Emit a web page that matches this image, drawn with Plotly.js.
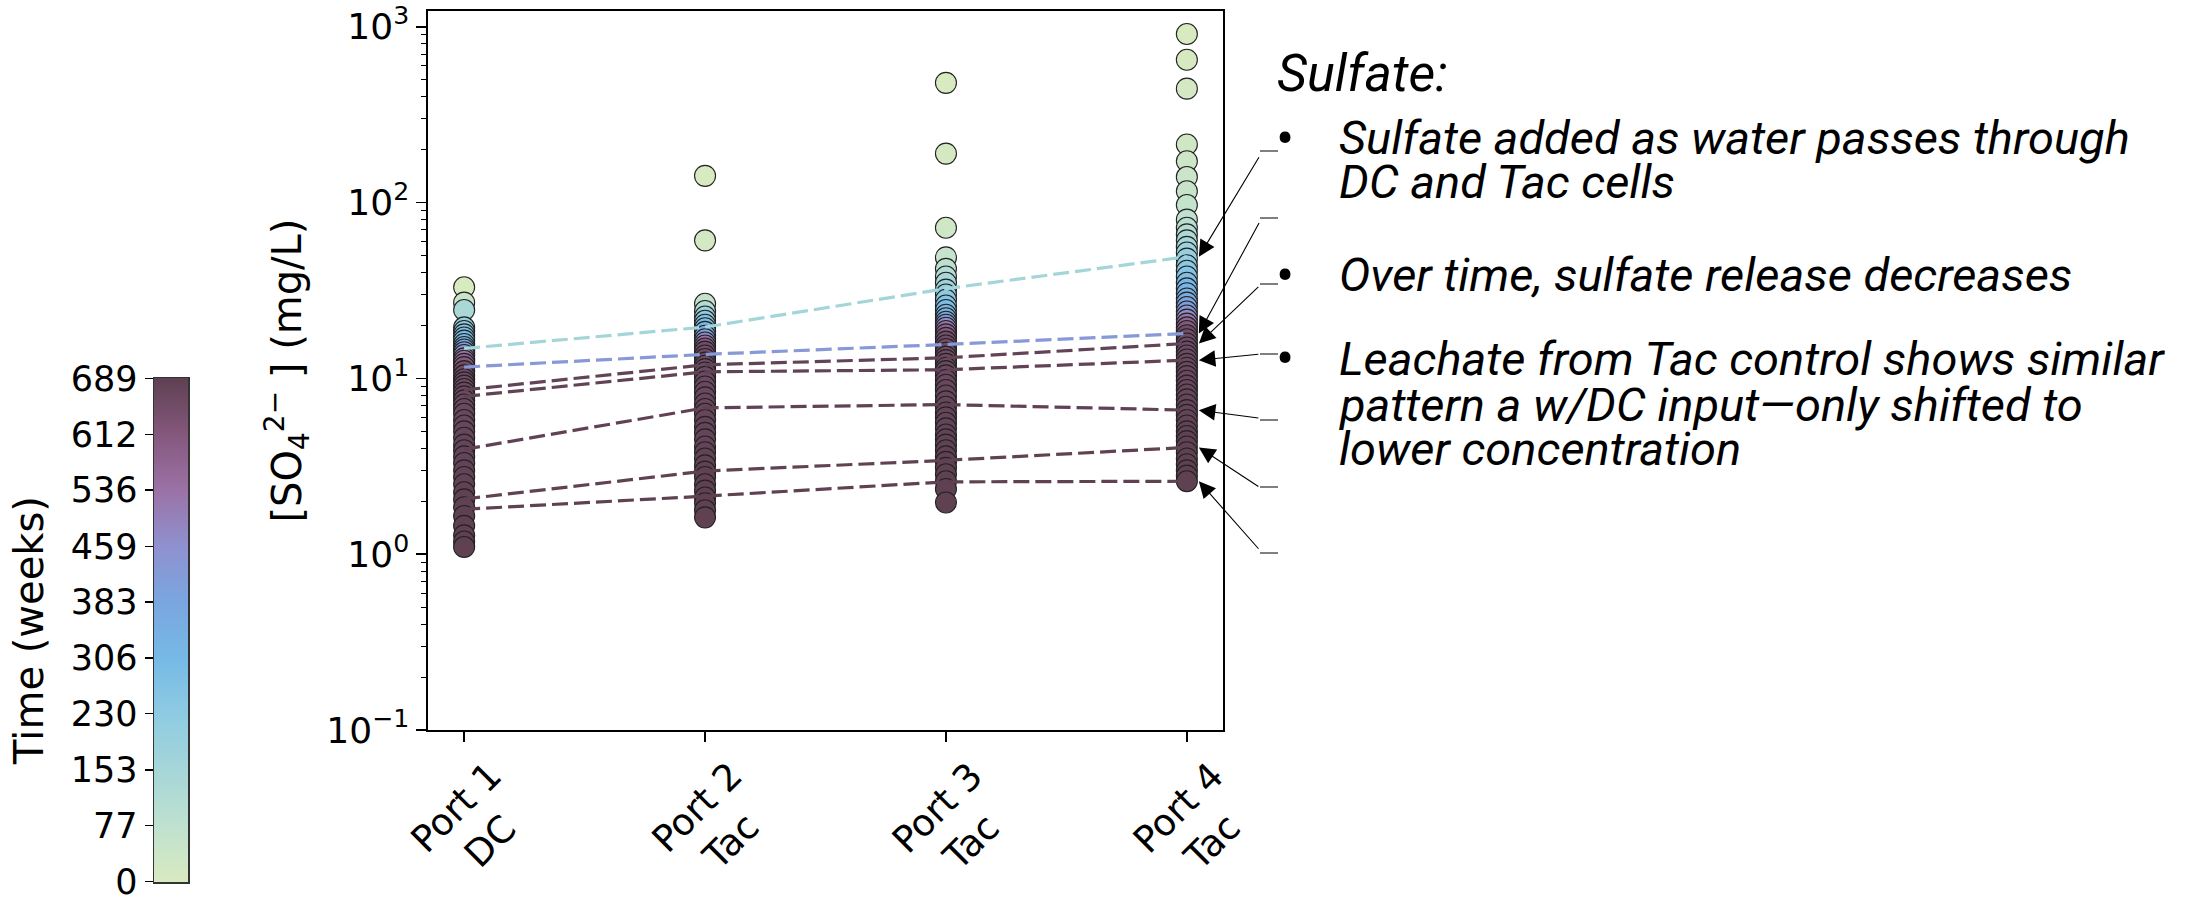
<!DOCTYPE html>
<html><head><meta charset="utf-8">
<script src="https://cdn.plot.ly/plotly-3.0.1.min.js"></script>
<style>html,body{margin:0;padding:0;background:#fff}#chart{width:2192px;height:900px}</style>
</head><body><div id="chart"></div>
<script>
// ---------- data ----------
const categories = ["Port 1<br>DC", "Port 2<br>Tac", "Port 3<br>Tac", "Port 4<br>Tac"];

const p1Times = [0, 45, 140, 205, 230, 255, 275, 295, 315, 340, 370, 405, 440, 480, 540, 575, 610,
  650, 651, 653, 654, 656, 657, 659, 660, 662, 663, 665, 666, 668, 669, 671, 672, 674, 675, 677, 678, 680, 681, 683, 684, 686, 687, 688, 688, 689, 689, 689];
const p1Values = [33, 27, 24.5, 19.5, 18.6, 17.8, 17.1, 16.4, 15.7, 15.1, 14.6, 14.1, 13.6, 13.0, 12.6, 12.1, 11.6,
  11.0, 10.4, 9.9, 9.5, 9.1, 8.7, 8.3, 7.9, 7.5, 7.1, 6.7, 6.3, 5.8, 5.4, 5.0, 4.6, 4.2, 3.9, 3.6, 3.3, 3.0, 2.75, 2.5, 2.25, 2.05, 1.85, 1.65, 1.45, 1.28, 1.18, 1.1];

const p2Times = [0, 15, 60, 110, 180, 230, 260, 290, 320, 360, 410, 460, 540, 600,
  650, 651, 653, 654, 656, 657, 659, 660, 662, 663, 665, 666, 668, 669, 671, 672, 674, 675, 677, 678, 680, 681, 683, 684, 686, 687, 688, 689, 689, 689, 689];
const p2Values = [142, 61, 26.6, 24.2, 22.5, 21.3, 20.2, 19.3, 18.4, 17.5, 16.7, 16.0, 15.4, 14.8,
  14.2, 13.5, 12.9, 12.3, 11.8, 11.3, 10.8, 10.2, 9.6, 9.0, 8.4, 7.8, 7.2, 6.7, 6.3, 5.8, 5.3, 4.9, 4.5, 4.1, 3.8, 3.5, 3.2, 2.95, 2.75, 2.5, 2.3, 2.1, 1.95, 1.78, 1.62];

const p3Times = [0, 12, 30, 55, 85, 115, 145, 175, 205, 235, 260, 285, 310, 340, 380, 420, 470, 530, 570, 610,
  650, 651, 653, 654, 656, 657, 659, 660, 662, 663, 665, 666, 668, 669, 671, 672, 674, 675, 677, 678, 680, 681, 683, 684, 686, 687, 688, 689, 689, 689, 689];
const p3Values = [480, 190, 72, 48.8, 42, 38, 35, 32, 30, 28, 26, 24.5, 23, 22, 21, 20.2, 19.4, 18.6, 17.8, 17.0,
  16.2, 15.4, 14.7, 14.0, 13.3, 12.7, 12.1, 11.5, 11.0, 10.4, 9.8, 9.2, 8.6, 8.0, 7.4, 6.9, 6.4, 6.0, 5.6, 5.2, 4.8, 4.5, 4.2, 3.9, 3.6, 3.35, 3.1, 2.85, 2.6, 2.35, 1.97];

const p4Times = [0, 6, 14, 24, 34, 44, 54, 64, 78, 95, 115, 135, 155, 175, 200, 220, 240, 260, 280, 300, 320, 340, 360, 385, 410, 440, 475, 520, 570, 610,
  650, 651, 653, 654, 656, 657, 659, 660, 662, 663, 665, 666, 668, 669, 671, 672, 674, 675, 677, 678, 680, 681, 683, 684, 686, 687, 688, 689, 689, 689, 689];
const p4Values = [910, 650, 445, 214, 172, 140, 116, 97, 80, 72, 66, 61, 56, 52, 48, 44, 41, 38, 35, 32.5, 30.5, 28.5, 27, 25.5, 24, 22.8, 21.6, 20.5, 19.5, 18.6,
  17.6, 16.7, 15.8, 15.0, 14.2, 13.5, 12.8, 12.1, 11.5, 10.9, 10.3, 9.7, 9.1, 8.6, 8.1, 7.6, 7.1, 6.6, 6.2, 5.8, 5.4, 5.0, 4.7, 4.4, 4.1, 3.8, 3.5, 3.25, 3.0, 2.8, 2.6];

// dashed trend lines (one per time), value at each port
const lineTimes = [160, 430, 680, 683, 685, 687, 689];
const lineP1 = [14.8, 11.6, 8.6, 7.9, 3.95, 2.06, 1.8];
const lineP2 = [19.6, 13.7, 11.95, 10.9, 6.8, 2.97, 2.14];
const lineP3 = [32.4, 15.6, 13.1, 11.2, 7.1, 3.42, 2.58];
const lineP4 = [49.2, 18.0, 15.8, 12.7, 6.6, 4.05, 2.6];

const cbTicks = [0, 77, 153, 230, 306, 383, 459, 536, 612, 689];
const yTickVals = [0.1, 1, 10, 100, 1000];
const yTickText = ["10<sup>\u22121</sup>", "10<sup>0</sup>", "10<sup>1</sup>", "10<sup>2</sup>", "10<sup>3</sup>"];

const heading = "Sulfate:";
const textLines = [
  "Sulfate added as water passes through",
  "DC and Tac cells",
  "Over time, sulfate release decreases",
  "Leachate from Tac control shows similar",
  "pattern a w/DC input\u2014only shifted to",
  "lower concentration"
];

// ---------- style / layout ----------
const W = 2192, H = 900;
const colorscale = [
  [0.000, '#d8eac0'], [0.112, '#bfe1cf'], [0.222, '#a6d6d8'], [0.334, '#8ecbe2'],
  [0.444, '#76b9e6'], [0.556, '#7aa6df'], [0.666, '#8f91d0'], [0.778, '#9b72a6'],
  [0.888, '#85587e'], [1.000, '#5f4152']
];
const cmax = 689;
function hex2rgb(h){ return [parseInt(h.slice(1,3),16), parseInt(h.slice(3,5),16), parseInt(h.slice(5,7),16)]; }
function colorAt(t){
  const f = Math.max(0, Math.min(1, t / cmax));
  for (let i = 1; i < colorscale.length; i++) {
    if (f <= colorscale[i][0]) {
      const a = colorscale[i-1], b = colorscale[i];
      const u = (f - a[0]) / (b[0] - a[0]);
      const ca = hex2rgb(a[1]), cb = hex2rgb(b[1]);
      return 'rgb(' + ca.map((c, k) => Math.round(c + (cb[k] - c) * u)).join(',') + ')';
    }
  }
  return colorscale[colorscale.length-1][1];
}
const px = v => v / W, py = v => 1 - v / H;

const ports = [[p1Times, p1Values], [p2Times, p2Values], [p3Times, p3Values], [p4Times, p4Values]];
const traces = [];
ports.forEach(([t, v], i) => {
  traces.push({
    type: 'scatter', mode: 'markers', x: v.map(() => i), y: v,
    marker: { size: 21, color: t, colorscale: colorscale, cmin: 0, cmax: cmax,
      line: { color: '#222', width: 1.1 } },
    showlegend: false, hoverinfo: 'x+y', xaxis: 'x', yaxis: 'y'
  });
});
lineTimes.forEach((t, k) => {
  traces.push({
    type: 'scatter', mode: 'lines', x: [0, 1, 2, 3], y: [lineP1[k], lineP2[k], lineP3[k], lineP4[k]],
    line: { color: colorAt(t), width: 3.2, dash: '16px,6px' },
    showlegend: false, hoverinfo: 'skip', xaxis: 'x', yaxis: 'y'
  });
});
// colour bar drawn as a heatmap on its own axes
traces.push({
  type: 'heatmap', x: [0, 1], y: cbTicks, z: cbTicks.map(v => [v, v]),
  zsmooth: 'best', colorscale: colorscale, zmin: 0, zmax: cmax, showscale: false,
  hoverinfo: 'skip', xaxis: 'x2', yaxis: 'y2'
});

const minorVals = [];
[-1, 0, 1, 2].forEach(d => { for (let k = 2; k <= 9; k++) minorVals.push(k * Math.pow(10, d)); });

const tickFont = { family: 'DejaVu Sans', size: 35, color: '#000' };
const annotations = [];
categories.forEach((c, i) => annotations.push({
  x: i, xref: 'x', y: py(751), yref: 'paper', text: c, textangle: -45, showarrow: false,
  xanchor: 'center', yanchor: 'top', align: 'center', xshift: 9,
  font: { family: 'DejaVu Sans', size: 37, color: '#000' }
}));
annotations.push({ x: px(1275), y: py(74), xref: 'paper', yref: 'paper', text: heading,
  showarrow: false, xanchor: 'left', yanchor: 'middle',
  font: { family: 'Roboto', size: 52, style: 'italic', color: '#000' } });
const lineY = [137, 182, 274, 358, 404, 448];
const bulletIdx = [0, 2, 3];
textLines.forEach((s, i) => annotations.push({ x: px(1337), y: py(lineY[i]), xref: 'paper', yref: 'paper',
  text: s, showarrow: false, xanchor: 'left', yanchor: 'middle',
  font: { family: 'Roboto', size: 47, style: 'italic', color: '#000' } }));
bulletIdx.forEach(i => annotations.push({ x: px(1274), y: py(lineY[i] + 1), xref: 'paper', yref: 'paper',
  text: '\u2022', showarrow: false, xanchor: 'left', yanchor: 'middle',
  font: { family: 'Roboto', size: 54, color: '#000' } }));

// arrows from the text to the Port 4 line ends
const tailY = [151, 218, 284, 354, 420, 487, 553];
const tipY = [252, 330, 342, 360, 412, 447, 484];
const shapes = [];
lineP4.forEach((v, k) => {
  annotations.push({ x: 3, y: Math.log10(v), xref: 'x', yref: 'y', text: '', showarrow: true,
    xshift: 12, axref: 'pixel', ayref: 'pixel', ax: 61, ay: tailY[k] - tipY[k],
    arrowhead: 2, arrowsize: 3, arrowwidth: 1.1, arrowcolor: '#000', standoff: 0 });
  shapes.push({ type: 'line', xref: 'paper', yref: 'paper', x0: px(1260), x1: px(1278),
    y0: py(tailY[k]), y1: py(tailY[k]), line: { color: '#000', width: 1 } });
});

const layout = {
  width: W, height: H, margin: { l: 0, r: 0, t: 0, b: 0 },
  paper_bgcolor: '#fff', plot_bgcolor: '#fff', showlegend: false,
  xaxis: { domain: [px(428), px(1223)], range: [-0.15, 3.15], tickvals: [0, 1, 2, 3],
    showticklabels: false, ticks: 'outside', ticklen: 10, tickwidth: 1.6, tickcolor: '#000',
    showline: true, linecolor: '#000', linewidth: 1.6, mirror: true, showgrid: false, zeroline: false,
    automargin: false, anchor: 'y' },
  yaxis: { domain: [py(730), py(11)], type: 'log', range: [-1, 3.09],
    tickvals: yTickVals, ticktext: yTickText, tickfont: { family: 'DejaVu Sans', size: 36, color: '#000' },
    ticks: 'outside', ticklen: 10, tickwidth: 1.6, tickcolor: '#000', ticklabeloverflow: 'allow',
    minor: { tickvals: minorVals, ticks: 'outside', ticklen: 5, tickwidth: 1, tickcolor: '#000', showgrid: false },
    showline: true, linecolor: '#000', linewidth: 1.6, mirror: true, showgrid: false, zeroline: false,
    automargin: false, anchor: 'x',
    title: { text: '[SO<sub>4</sub><sup>2\u2212</sup> ] (mg/L)', font: { family: 'DejaVu Sans', size: 40, color: '#000' }, standoff: 12 } },
  xaxis2: { domain: [px(154), px(188)], range: [-0.5, 1.5], anchor: 'y2', showticklabels: false, ticks: '',
    showline: true, mirror: true, linecolor: '#333', linewidth: 1.5, showgrid: false, zeroline: false, fixedrange: true },
  yaxis2: { domain: [py(882), py(378)], range: [-0.4, cmax + 0.4], anchor: 'x2', side: 'left',
    tickmode: 'array', tickvals: cbTicks, ticktext: cbTicks.map(String), tickfont: tickFont,
    ticks: 'outside', ticklen: 8, tickwidth: 1.5, tickcolor: '#000', ticklabeloverflow: 'allow',
    showline: true, mirror: true, linecolor: '#333', linewidth: 1.5, showgrid: false, zeroline: false, fixedrange: true,
    automargin: false,
    title: { text: 'Time (weeks)', font: { family: 'DejaVu Sans', size: 40, color: '#000' }, standoff: 14 } },
  annotations: annotations, shapes: shapes
};
Plotly.newPlot('chart', traces, layout, { displayModeBar: false, staticPlot: true });
</script></body></html>
